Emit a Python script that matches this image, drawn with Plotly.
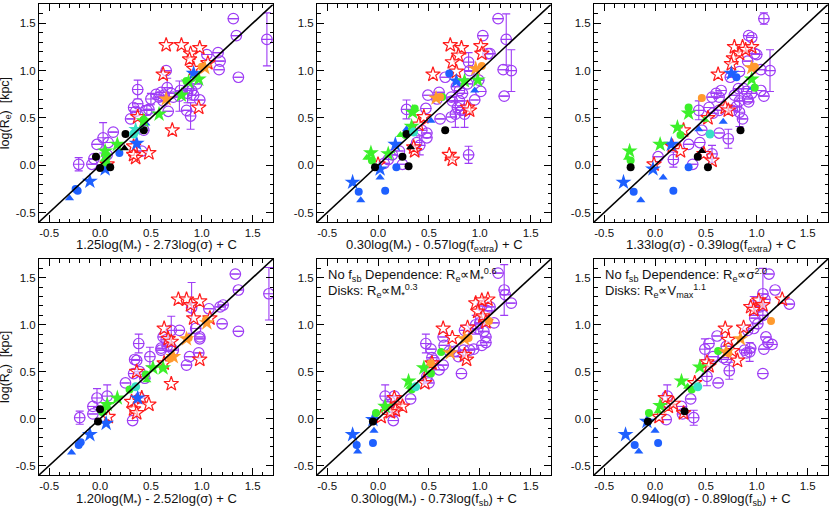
import plotly.graph_objects as go

# axis range shared by all six panels, and the 1:1 line
AX_RANGE = [-0.6, 1.7]
ONE_TO_ONE = [-0.6, 1.7]
TICK_VALS = [-0.5, 0.0, 0.5, 1.0, 1.5]
TICK_TEXT = ["-0.5", "0.0", "0.5", "1.0", "1.5"]

X_TITLES = [
    "1.25log(M<sub>*</sub>) - 2.73log(σ) + C",
    "0.30log(M<sub>*</sub>) - 0.57log(f<sub>extra</sub>) + C",
    "1.33log(σ) - 0.39log(f<sub>extra</sub>) + C",
    "1.20log(M<sub>*</sub>) - 2.52log(σ) + C",
    "0.30log(M<sub>*</sub>) - 0.73log(f<sub>sb</sub>) + C",
    "0.94log(σ) - 0.89log(f<sub>sb</sub>) + C",
]
Y_TITLE = "log(R<sub>e</sub>)  [kpc]"
NOTES = {
    5: ["No f<sub>sb</sub> Dependence: R<sub>e</sub>∝M<sub>*</sub><sup>0.6</sup>",
        "Disks: R<sub>e</sub>∝M<sub>*</sub><sup>0.3</sup>"],
    6: ["No f<sub>sb</sub> Dependence: R<sub>e</sub>∝σ<sup>2.0</sup>",
        "Disks: R<sub>e</sub>∝V<sub>max</sub><sup>1.1</sup>"],
}

# purple open circles: (x, log Re, error)
p1_purple = [
    (1.31, 1.55, 0), (1.34, 1.37, 0), (1.64, 1.33, 0.28), (1.36, 0.93, 0), (1.16, 1.19, 0), (1.18, 1.10, 0),
    (1.17, 1.01, 0), (1.05, 1.17, 0), (0.65, 1.00, 0), (0.37, 0.80, 0.10), (0.37, 0.65, 0), (0.60, 0.77, 0),
    (0.63, 0.74, 0), (0.66, 0.82, 0.10), (0.58, 0.72, 0), (0.62, 0.68, 0), (0.50, 0.70, 0.06), (0.48, 0.59, 0),
    (0.46, 0.58, 0.05), (0.33, 0.61, 0), (0.35, 0.57, 0), (0.30, 0.49, 0), (0.13, 0.35, 0), (0.03, 0.29, 0.16),
    (-0.03, 0.22, 0), (0.08, 0.24, 0), (0.07, 0.11, 0), (-0.06, 0.07, 0), (-0.08, 0.01, 0), (-0.21, 0.01, 0.07),
    (0.43, 0.37, 0), (0.41, 0.15, 0), (0.85, 0.58, 0), (0.89, 0.52, 0.14), (0.98, 0.69, 0), (0.87, 0.81, 0),
    (0.90, 0.79, 0.10), (0.92, 0.74, 0), (0.79, 0.79, 0), (0.72, 0.72, 0), (0.67, 0.57, 0), (0.95, 0.86, 0),
    (0.78, 0.73, 0.16), (0.55, 0.75, 0), (0.70, 0.76, 0), (0.86, 0.76, 0.10),
]
p2_purple = [
    (1.18, 1.55, 0), (1.03, 1.37, 0), (1.26, 1.33, 0.27), (1.08, 1.18, 0), (1.10, 1.18, 0), (0.89, 1.09, 0.10),
    (0.90, 1.00, 0), (1.23, 1.01, 0), (1.31, 1.00, 0.22), (1.24, 0.73, 0), (1.01, 0.78, 0), (0.95, 0.69, 0),
    (0.99, 0.90, 0), (0.66, 0.93, 0), (0.49, 0.74, 0), (0.47, 0.60, 0), (0.28, 0.59, 0.10), (0.61, 0.49, 0),
    (0.43, 0.37, 0), (0.48, 0.34, 0), (0.48, 0.29, 0), (0.38, 0.24, 0), (0.41, 0.21, 0.10), (0.21, 0.15, 0),
    (0.14, 0.11, 0), (0.10, 0.06, 0), (0.06, 0.02, 0), (0.24, 0.01, 0), (0.89, 0.11, 0.09), (0.72, 0.72, 0),
    (0.77, 0.83, 0), (0.80, 0.79, 0), (0.73, 0.68, 0), (0.80, 0.68, 0), (0.83, 0.76, 0), (0.78, 0.61, 0),
    (0.76, 0.54, 0.14), (0.82, 0.58, 0), (0.85, 0.54, 0.14), (0.72, 0.51, 0), (0.88, 0.86, 0), (0.60, 0.77, 0),
    (0.58, 0.70, 0),
]
p3_purple = [
    (1.07, 1.55, 0.06), (0.92, 1.37, 0), (0.95, 1.35, 0), (0.98, 1.18, 0), (1.00, 1.17, 0), (0.91, 1.10, 0),
    (1.04, 1.01, 0), (1.13, 1.00, 0.22), (1.04, 0.79, 0), (1.07, 0.73, 0), (0.83, 0.99, 0), (0.74, 0.93, 0),
    (0.82, 0.81, 0), (0.87, 0.81, 0), (0.90, 0.78, 0), (0.95, 0.76, 0), (0.91, 0.70, 0), (0.92, 0.67, 0),
    (0.78, 0.74, 0), (0.83, 0.68, 0), (0.76, 0.58, 0), (0.83, 0.56, 0.15), (0.86, 0.49, 0), (0.65, 0.79, 0),
    (0.60, 0.76, 0), (0.63, 0.72, 0), (0.56, 0.72, 0), (0.53, 0.61, 0), (0.57, 0.55, 0), (0.63, 0.58, 0),
    (0.43, 0.58, 0.10), (0.46, 0.37, 0), (0.63, 0.34, 0), (0.72, 0.28, 0.10), (0.33, 0.22, 0), (0.44, 0.24, 0),
    (0.37, 0.01, 0), (0.18, 0.06, 0.08), (0.03, 0.09, 0), (0.56, 0.12, 0.09), (0.80, 0.62, 0),
]
p4_purple = [
    (1.33, 1.54, 0), (1.36, 1.37, 0), (1.66, 1.33, 0.28), (1.36, 0.93, 0), (1.21, 1.21, 0), (1.18, 1.19, 0),
    (1.07, 1.17, 0), (1.20, 1.01, 0), (0.90, 1.18, 0.27), (0.98, 0.87, 0), (0.98, 0.85, 0), (0.97, 0.70, 0),
    (0.94, 0.96, 0), (0.78, 0.94, 0), (0.70, 0.94, 0.15), (0.88, 0.66, 0), (0.85, 0.57, 0), (0.62, 0.87, 0),
    (0.65, 0.84, 0), (0.60, 0.75, 0), (0.69, 0.77, 0), (0.72, 0.73, 0), (0.49, 0.66, 0.10), (0.34, 0.63, 0),
    (0.36, 0.62, 0), (0.38, 0.80, 0.10), (0.33, 0.48, 0), (0.39, 0.50, 0), (0.44, 0.43, 0), (0.25, 0.38, 0),
    (0.32, -0.02, 0), (0.07, 0.24, 0.12), (-0.03, 0.22, 0.10), (-0.07, 0.13, 0), (-0.07, 0.05, 0),
    (-0.20, 0.01, 0.07), (0.39, 0.22, 0), (0.60, 0.73, 0), (0.66, 0.77, 0),
]
p5_purple = [
    (1.18, 1.55, 0), (1.24, 1.37, 0.27), (1.25, 1.32, 0), (1.31, 1.23, 0), (1.02, 1.20, 0), (1.10, 1.19, 0),
    (1.07, 1.15, 0), (1.14, 1.02, 0), (1.00, 1.02, 0), (0.98, 0.96, 0), (1.04, 0.93, 0), (1.06, 0.87, 0),
    (1.06, 0.81, 0), (1.02, 0.78, 0), (0.85, 0.94, 0), (0.90, 0.73, 0), (0.94, 0.74, 0), (0.84, 0.73, 0),
    (0.79, 0.66, 0), (0.82, 0.48, 0), (0.64, 0.87, 0), (0.65, 0.78, 0), (0.47, 0.80, 0.10), (0.52, 0.74, 0),
    (0.53, 0.65, 0), (0.55, 0.62, 0), (0.60, 0.52, 0), (0.64, 0.57, 0), (0.48, 0.45, 0), (0.50, 0.38, 0),
    (0.32, 0.21, 0), (0.07, 0.24, 0.12), (0.16, 0.24, 0), (0.10, 0.15, 0), (0.15, 0.07, 0), (0.15, -0.02, 0),
    (0.12, 0.18, 0), (0.70, 0.72, 0), (0.76, 0.72, 0), (0.96, 1.00, 0.10),
]
p6_purple = [
    (1.12, 1.54, 0), (1.18, 1.37, 0), (1.06, 1.33, 0.27), (1.32, 1.22, 0), (1.03, 1.19, 0), (1.06, 1.10, 0),
    (0.98, 1.07, 0), (1.01, 1.01, 0), (0.97, 0.96, 0), (0.91, 0.94, 0), (1.09, 0.87, 0), (1.11, 0.81, 0),
    (1.07, 0.74, 0), (1.15, 0.79, 0), (0.94, 0.75, 0), (0.93, 0.71, 0.10), (0.88, 0.73, 0), (0.90, 0.70, 0),
    (1.06, 0.48, 0), (0.61, 0.88, 0), (0.49, 0.74, 0.11), (0.53, 0.80, 0), (0.57, 0.66, 0), (0.67, 0.65, 0),
    (0.70, 0.63, 0), (0.73, 0.51, 0.09), (0.62, 0.38, 0), (0.51, 0.45, 0.10), (0.35, 0.21, 0),
    (0.12, 0.24, 0.12), (0.11, -0.01, 0), (0.26, 0.13, 0), (0.27, 0.05, 0), (0.38, 0.01, 0.08),
    (0.70, 0.77, 0), (0.97, 1.20, 0.10), (1.08, 1.27, 0),
]

# red open stars: (x, log Re)
p1_red = [(0.65, 1.27), (0.80, 1.27), (0.98, 1.24), (0.89, 1.18), (0.88, 1.12), (1.06, 1.08), (0.62, 0.96),
          (0.97, 0.61), (0.37, 0.51), (0.71, 0.37), (0.33, 0.20), (0.35, 0.08), (0.48, 0.13), (0.07, 0.01),
          (0.33, 0.11), (0.92, 1.02)]
p2_red = [(0.71, 1.27), (0.82, 1.24), (1.01, 1.26), (0.79, 1.16), (0.73, 1.09), (1.02, 1.18), (0.77, 0.99),
          (0.54, 0.96), (0.88, 0.61), (0.90, 0.58), (0.45, 0.51), (0.40, 0.43), (0.36, 0.15), (0.35, 0.19),
          (0.70, 0.11), (0.73, 0.06), (0.00, 0.01)]
p3_red = [(0.78, 1.25), (0.86, 1.25), (0.95, 1.25), (0.83, 1.18), (0.89, 1.22), (0.77, 1.13), (0.75, 1.07),
          (0.62, 0.96), (0.69, 0.61), (0.52, 0.50), (0.28, 0.37), (0.17, 0.20), (0.25, 0.15), (0.48, 0.12),
          (0.56, 0.05), (-0.01, 0.01), (0.72, 0.58)]
p4_red = [(0.77, 1.27), (0.85, 1.27), (0.98, 1.25), (0.89, 1.21), (0.92, 1.07), (1.08, 1.07), (0.63, 0.96),
          (0.67, 0.85), (0.70, 0.82), (0.63, 0.59), (0.98, 0.63), (0.70, 0.37), (0.36, 0.50), (0.31, 0.18),
          (0.33, 0.10), (0.36, 0.06), (0.41, 0.22), (0.48, 0.15), (0.08, 0.02)]
p5_red = [(0.96, 1.23), (1.08, 1.27), (1.02, 1.26), (0.98, 1.14), (1.03, 1.09), (1.06, 1.03), (0.88, 0.97),
          (0.64, 0.96), (0.73, 0.86), (0.87, 0.63), (0.85, 0.68), (0.53, 0.59), (0.49, 0.52), (0.46, 0.38),
          (0.16, 0.22), (0.19, 0.15), (0.24, 0.13), (0.17, 0.09), (0.03, 0.02), (0.12, 0.07)]
p6_red = [(0.69, 0.96), (0.87, 0.97), (0.94, 1.19), (0.97, 1.16), (1.02, 1.26), (1.06, 1.21), (1.25, 1.27),
          (0.72, 0.84), (0.81, 0.62), (0.51, 0.60), (0.53, 0.56), (0.39, 0.38), (0.10, 0.22), (0.13, 0.13),
          (0.18, 0.16), (0.28, 0.06), (0.04, 0.02), (0.76, 0.72)]

# filled symbols: (sample, x, log Re)
p1_filled = [
    ("blue_star", -0.10, -0.17), ("blue_star", 0.05, -0.04), ("blue_star", 0.36, 0.23), ("blue_star", 0.92, 0.97),
    ("blue_circle", -0.22, -0.27), ("blue_circle", -0.24, -0.25), ("blue_circle", 0.19, 0.13),
    ("blue_tri", -0.30, -0.35), ("blue_tri", 0.45, 0.44), ("blue_tri", 0.35, 0.38),
    ("green_star", 0.17, 0.22), ("green_star", 0.05, 0.15), ("green_star", 0.58, 0.54), ("green_star", 0.80, 0.74),
    ("green_star", 0.97, 0.91), ("green_star", 0.87, 0.88), ("green_star", 0.43, 0.47),
    ("green_circle", 0.07, 0.10), ("green_circle", 0.43, 0.48), ("green_circle", 0.06, 0.03),
    ("green_circle", 0.85, 0.89), ("green_tri", 0.04, 0.06),
    ("black_circle", 0.00, -0.03), ("black_circle", 0.10, -0.02), ("black_circle", -0.04, 0.09),
    ("black_circle", 0.25, 0.33), ("black_circle", 0.43, 0.37), ("black_tri", 0.24, 0.18),
    ("cyan_circle", 0.33, 0.33), ("cyan_star", 0.35, 0.38),
    ("orange_star", 1.03, 1.03), ("orange_circle", 1.00, 1.04), ("orange_star", 0.65, 0.70),
]
p2_filled = [
    ("blue_star", -0.25, -0.18), ("blue_star", 0.17, 0.22), ("blue_star", 0.02, -0.04), ("blue_star", 0.77, 0.89),
    ("blue_circle", -0.19, -0.28), ("blue_circle", 0.07, -0.27), ("blue_circle", 0.18, -0.02),
    ("blue_circle", 0.70, 0.97),
    ("blue_tri", -0.17, -0.37), ("blue_tri", 0.02, -0.13), ("blue_tri", 0.28, 0.38), ("blue_tri", 0.52, 0.47),
    ("blue_tri", 0.95, 0.79),
    ("green_star", -0.07, 0.13), ("green_star", 0.34, 0.56), ("green_star", 0.33, 0.41), ("green_star", 0.10, 0.12),
    ("green_star", 0.85, 0.89), ("green_star", 0.98, 0.90),
    ("green_circle", -0.06, 0.05), ("green_circle", 0.27, 0.32), ("green_circle", 0.63, 0.72),
    ("green_circle", 0.36, 0.60), ("green_tri", -0.11, 0.08), ("green_tri", 0.22, 0.32),
    ("black_circle", -0.03, -0.02), ("black_circle", 0.24, 0.09), ("black_circle", 0.30, -0.01),
    ("black_circle", 0.66, 0.37), ("black_circle", 0.28, 0.33), ("black_tri", 0.32, 0.19),
    ("cyan_circle", 0.35, 0.35),
    ("orange_star", 0.96, 1.02), ("orange_star", 0.57, 0.71), ("orange_circle", 1.02, 1.05),
    ("orange_circle", 0.61, 0.72),
]
p3_filled = [
    ("blue_star", -0.31, -0.18), ("blue_star", -0.02, -0.04), ("blue_star", 0.75, 0.97), ("blue_star", 0.16, 0.22),
    ("blue_circle", -0.21, -0.28), ("blue_circle", 0.18, -0.27), ("blue_circle", 0.33, -0.02),
    ("blue_circle", 0.80, 0.93),
    ("blue_tri", -0.14, -0.37), ("blue_tri", 0.08, -0.13), ("blue_tri", 0.67, 0.46), ("blue_tri", 0.43, 0.38),
    ("blue_tri", 0.96, 0.82),
    ("green_star", -0.25, 0.15), ("green_star", 0.05, 0.22), ("green_star", 0.22, 0.40), ("green_star", 0.33, 0.55),
    ("green_star", 0.95, 0.91),
    ("green_circle", -0.24, 0.05), ("green_circle", 0.33, 0.61), ("green_circle", 0.25, 0.32),
    ("green_circle", 0.98, 0.82), ("green_tri", -0.27, 0.08), ("green_tri", 0.49, 0.48),
    ("black_circle", -0.24, -0.02), ("black_circle", 0.42, 0.09), ("black_circle", 0.52, -0.02),
    ("black_circle", 0.84, 0.37), ("black_tri", 0.46, 0.15),
    ("cyan_circle", 0.54, 0.33),
    ("orange_circle", 0.98, 1.04), ("orange_circle", 0.46, 0.71), ("orange_star", 0.95, 1.03),
]
p4_filled = [
    ("blue_star", -0.10, -0.17), ("blue_star", 0.06, -0.05), ("blue_star", 0.37, 0.22),
    ("blue_circle", -0.21, -0.28), ("blue_circle", -0.19, -0.25), ("blue_tri", -0.28, -0.36),
    ("green_star", 0.17, 0.22), ("green_star", 0.07, 0.15), ("green_star", 0.52, 0.54), ("green_star", 0.62, 0.54),
    ("green_circle", 0.29, 0.31), ("green_circle", 0.06, 0.13), ("green_circle", 0.02, 0.07),
    ("green_circle", 0.45, 0.47), ("green_tri", 0.46, 0.41),
    ("black_circle", -0.02, -0.03), ("black_circle", 0.00, 0.10),
    ("cyan_circle", 0.35, 0.34),
    ("orange_star", 0.85, 0.85), ("orange_star", 1.05, 1.02), ("orange_star", 0.72, 0.66),
    ("orange_circle", 0.87, 0.86), ("orange_circle", 1.04, 1.05), ("orange_circle", 0.69, 0.64),
]
p5_filled = [
    ("blue_star", -0.25, -0.17), ("blue_star", -0.05, -0.01),
    ("blue_circle", -0.21, -0.28), ("blue_circle", -0.05, -0.26),
    ("blue_tri", -0.20, -0.35), ("blue_tri", -0.04, -0.13),
    ("green_star", 0.30, 0.40), ("green_star", 0.45, 0.54), ("green_star", 0.07, 0.13),
    ("green_circle", -0.02, 0.06), ("green_circle", 0.62, 0.71), ("green_circle", 0.52, 0.48),
    ("green_circle", 0.33, 0.31), ("green_tri", 0.31, 0.34),
    ("black_circle", -0.05, -0.03), ("cyan_circle", 0.37, 0.34),
    ("orange_star", 0.85, 0.85), ("orange_star", 0.71, 0.70),
    ("orange_circle", 0.89, 0.86), ("orange_circle", 1.09, 1.04), ("orange_circle", 0.52, 0.59),
]
p6_filled = [
    ("blue_star", -0.29, -0.17), ("blue_star", -0.08, -0.03),
    ("blue_circle", -0.20, -0.28), ("blue_circle", 0.03, -0.26),
    ("blue_tri", -0.16, -0.35), ("blue_tri", 0.00, -0.13),
    ("green_star", 0.26, 0.40), ("green_star", 0.44, 0.55), ("green_star", 0.05, 0.14),
    ("green_circle", -0.06, 0.06), ("green_circle", 0.62, 0.72), ("green_circle", 0.36, 0.31),
    ("green_tri", 0.03, 0.08), ("green_tri", 0.32, 0.34),
    ("black_circle", -0.07, -0.03), ("black_circle", 0.29, 0.08), ("cyan_circle", 0.42, 0.34),
    ("orange_star", 0.84, 0.85), ("orange_star", 0.70, 0.71),
    ("orange_circle", 1.14, 1.04), ("orange_circle", 0.72, 0.70),
]

PURPLE = "#9e3cf5"
RED = "#ff1c1c"
STYLE = {
    "blue_star": ("#1e60ff", "star", 12), "blue_circle": ("#1e60ff", "circle", 8),
    "blue_tri": ("#1e60ff", "triangle-up", 8),
    "green_star": ("#3cf02a", "star", 12), "green_circle": ("#3cf02a", "circle", 8),
    "green_tri": ("#3cf02a", "triangle-up", 8),
    "black_circle": ("#000000", "circle", 8), "black_tri": ("#000000", "triangle-up", 8),
    "cyan_circle": ("#38e0c6", "circle", 9), "cyan_star": ("#38e0c6", "star", 11),
    "orange_star": ("#ff9a2e", "star", 12), "orange_circle": ("#ff9a2e", "circle", 8),
}

PURPLES = [p1_purple, p2_purple, p3_purple, p4_purple, p5_purple, p6_purple]
REDS = [p1_red, p2_red, p3_red, p4_red, p5_red, p6_red]
FILLED = [p1_filled, p2_filled, p3_filled, p4_filled, p5_filled, p6_filled]

W, H = 830, 508
# panel boxes in pixels: left, right, top, bottom
COLS = [(39, 273), (317, 551), (594, 828)]
ROWS = [(4.4, 222), (259, 475)]
FONT = "Liberation Sans, Arial, sans-serif"

fig = go.Figure()
layout = dict(width=W, height=H, margin=dict(l=0, r=0, t=0, b=0),
              paper_bgcolor="white", plot_bgcolor="white", showlegend=False,
              font=dict(family=FONT, size=11, color="#111"))
annotations = []

for k in range(6):
    r, c = divmod(k, 3)
    n = "" if k == 0 else str(k + 1)
    xa, ya = "x" + n, "y" + n
    x0, x1 = COLS[c]
    y0, y1 = ROWS[r]
    axis = dict(range=AX_RANGE, tickvals=TICK_VALS, ticktext=TICK_TEXT, ticks="inside", ticklen=7,
                tickwidth=1, tickcolor="black", showline=True, linecolor="black", linewidth=1,
                mirror="allticks", showgrid=False, zeroline=False,
                minor=dict(ticks="inside", dtick=0.1, ticklen=3.5, tickcolor="black", showgrid=False),
                tickfont=dict(family=FONT, size=11.5, color="#111"))
    layout["xaxis" + n] = dict(axis, domain=[x0 / W, x1 / W], anchor=ya)
    layout["yaxis" + n] = dict(axis, domain=[1 - y1 / H, 1 - y0 / H], anchor=xa)

    pur = PURPLES[k]
    px = [p[0] for p in pur]
    py = [p[1] for p in pur]
    pe = [p[2] for p in pur]
    fig.add_trace(go.Scatter(x=px, y=py, mode="markers", xaxis=xa, yaxis=ya,
                             marker=dict(symbol="circle-open", size=10.5, color=PURPLE, line=dict(width=1.2)),
                             error_y=dict(type="data", array=pe, color=PURPLE, thickness=1.1, width=4)))
    fig.add_trace(go.Scatter(x=px, y=py, mode="markers", xaxis=xa, yaxis=ya,
                             marker=dict(symbol="line-ew", size=8, color=PURPLE,
                                         line=dict(width=1.1, color=PURPLE))))

    red = REDS[k]
    fig.add_trace(go.Scatter(x=[p[0] for p in red], y=[p[1] for p in red], mode="markers",
                             xaxis=xa, yaxis=ya,
                             marker=dict(symbol="star", size=11, color="rgba(255,255,255,0.6)",
                                         line=dict(width=1.2, color=RED))))

    for key, (col, sym, size) in STYLE.items():
        pts = [p for p in FILLED[k] if p[0] == key]
        if not pts:
            continue
        fig.add_trace(go.Scatter(x=[p[1] for p in pts], y=[p[2] for p in pts], mode="markers",
                                 xaxis=xa, yaxis=ya,
                                 marker=dict(symbol=sym, size=size, color=col, line=dict(width=0))))

    fig.add_trace(go.Scatter(x=ONE_TO_ONE, y=ONE_TO_ONE, mode="lines", xaxis=xa, yaxis=ya,
                             line=dict(color="black", width=1.6)))

    # x axis title under each panel
    ty = 245 if r == 0 else 499
    annotations.append(dict(text=X_TITLES[k], xref="paper", yref="paper", x=(x0 + x1) / 2 / W,
                            y=1 - ty / H, xanchor="center", yanchor="middle", showarrow=False,
                            font=dict(family=FONT, size=13, color="#111")))
    if c == 0:
        annotations.append(dict(text=Y_TITLE, xref="paper", yref="paper", x=6 / W,
                                y=1 - (y0 + y1) / 2 / H, textangle=-90, xanchor="center",
                                yanchor="middle", showarrow=False,
                                font=dict(family=FONT, size=12.5, color="#111")))
    if (k + 1) in NOTES:
        for j, line in enumerate(NOTES[k + 1]):
            annotations.append(dict(text=line, xref="paper", yref="paper", x=(x0 + 9) / W,
                                    y=1 - (y0 + 16 + 16 * j) / H, xanchor="left", yanchor="middle",
                                    showarrow=False, font=dict(family=FONT, size=13, color="#111")))

layout["annotations"] = annotations
fig.update_layout(**layout)
# the page has a default body margin; remove it so the figure sits at the window's corner
fig.write_html("out.html", config={"displayModeBar": False},
               post_script="document.body.style.margin='0';")
